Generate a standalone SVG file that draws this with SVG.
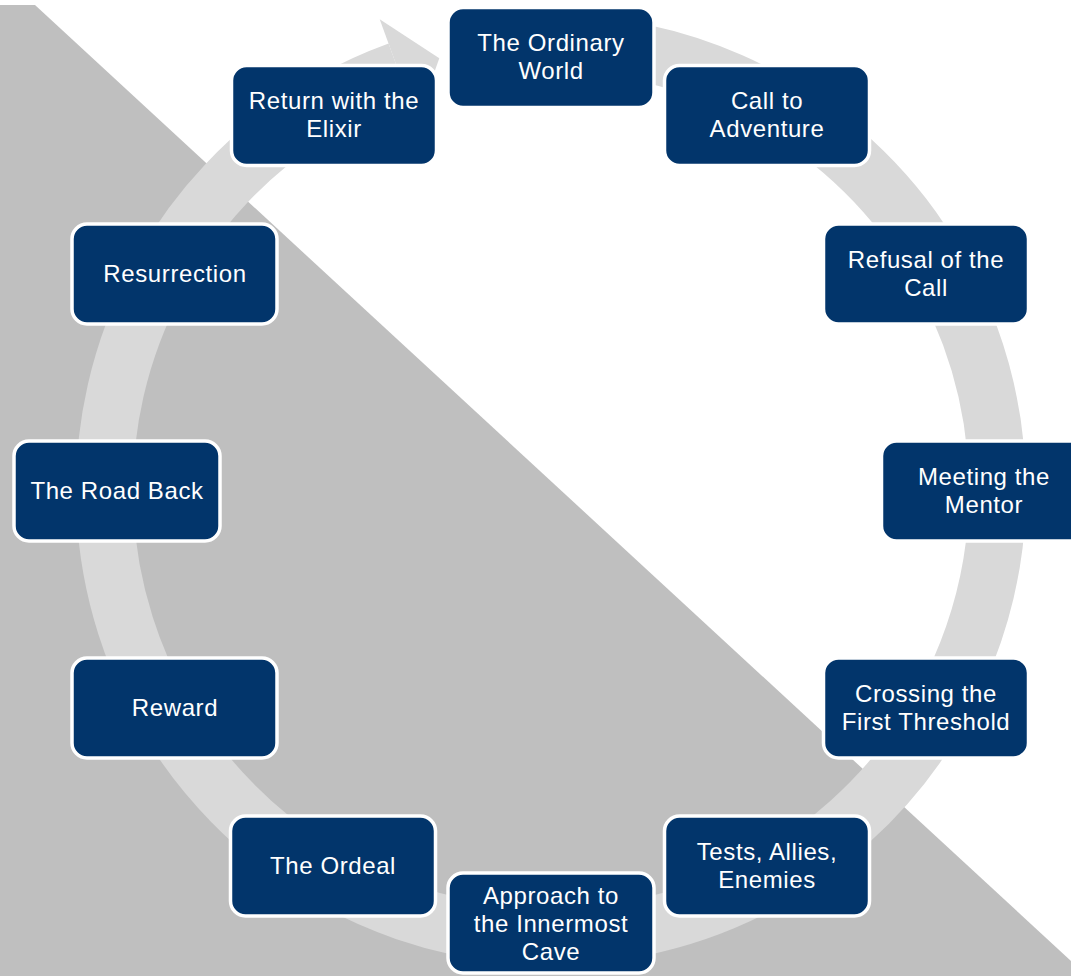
<svg xmlns="http://www.w3.org/2000/svg" width="1071" height="976" viewBox="0 0 1071 976">
<style>
.bg{fill:#bfbfbf}
.ring{fill:none;stroke:#d9d9d9;stroke-width:57}
.arrow{fill:#d9d9d9}
.box{fill:#02356b;stroke:#ffffff;stroke-width:3.5}
.t{fill:#ffffff;font-family:"Liberation Sans",Arial,sans-serif;font-size:24px;letter-spacing:0.6px;text-anchor:middle}
</style>
<rect x="0" y="0" width="1071" height="976" fill="#ffffff"/>
<polygon class="bg" points="0,5 35,5 1071,961 1071,976 0,976"/>
<g id="connectors">
<path class="ring" d="M 527.6 44.1 A 446.5 446.5 0 1 1 398.3 70.4"/>
<polygon class="arrow" points="379.7,19.2 439.3,58.2 416.9,121.6"/>
</g>
<g id="n1"><rect class="box" x="448" y="7.5" width="206" height="100" rx="15"/><text class="t" x="551" y="51">The Ordinary</text><text class="t" x="551" y="79">World</text></g>
<g id="n2"><rect class="box" x="664.5" y="65.5" width="205" height="100" rx="15"/><text class="t" x="767" y="109">Call to</text><text class="t" x="767" y="137">Adventure</text></g>
<g id="n3"><rect class="box" x="823.5" y="224" width="205" height="100" rx="15"/><text class="t" x="926" y="268">Refusal of the</text><text class="t" x="926" y="296">Call</text></g>
<g id="n4"><rect class="box" x="881.5" y="441" width="205" height="100" rx="15"/><text class="t" x="984" y="485">Meeting the</text><text class="t" x="984" y="513">Mentor</text></g>
<g id="n5"><rect class="box" x="823.5" y="658" width="205" height="100" rx="15"/><text class="t" x="926" y="702">Crossing the</text><text class="t" x="926" y="730">First Threshold</text></g>
<g id="n6"><rect class="box" x="664.5" y="816" width="205" height="100" rx="15"/><text class="t" x="767" y="860">Tests, Allies,</text><text class="t" x="767" y="888">Enemies</text></g>
<g id="n7"><rect class="box" x="448" y="873" width="206" height="100" rx="15"/><text class="t" x="551" y="904">Approach to</text><text class="t" x="551" y="932">the Innermost</text><text class="t" x="551" y="960">Cave</text></g>
<g id="n8"><rect class="box" x="230.5" y="816" width="205" height="100" rx="15"/><text class="t" x="333" y="874">The Ordeal</text></g>
<g id="n9"><rect class="box" x="72" y="658" width="205" height="100" rx="15"/><text class="t" x="175" y="716">Reward</text></g>
<g id="n10"><rect class="box" x="14" y="441" width="206" height="100" rx="15"/><text class="t" x="117" y="499">The Road Back</text></g>
<g id="n11"><rect class="box" x="72" y="224" width="205" height="100" rx="15"/><text class="t" x="175" y="282">Resurrection</text></g>
<g id="n12"><rect class="box" x="231.5" y="65.5" width="205" height="100" rx="15"/><text class="t" x="334" y="109">Return with the</text><text class="t" x="334" y="137">Elixir</text></g>
</svg>
